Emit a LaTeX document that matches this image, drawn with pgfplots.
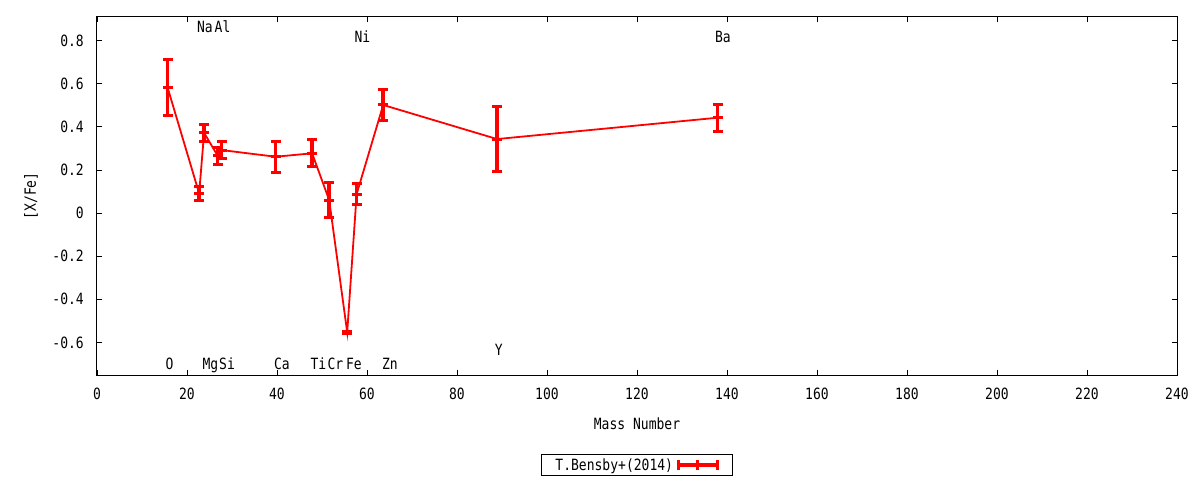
\documentclass[border=0pt]{standalone}
\usepackage{pgfplots}
\pgfplotsset{compat=1.18}
\usepackage{fontspec}
\setmainfont[FakeStretch=0.84]{DejaVu Sans Mono}
\begin{document}
\begin{tikzpicture}[font=\fontsize{15.5}{18}\selectfont]
\path[use as bounding box] (-97pt,-105pt) rectangle (1103pt,375pt);
\begin{axis}[
  at={(0pt,0pt)}, anchor=south west,
  scale only axis, width=1080pt, height=358pt,
  xmin=0, xmax=240, ymin=-0.751, ymax=0.909,
  xtick={0,20,40,60,80,100,120,140,160,180,200,220,240},
  xticklabels={0,20,40,60,80,100,120,140,160,180,200,220,240},
  ytick={-0.6,-0.4,-0.2,0,0.2,0.4,0.6,0.8},
  yticklabels={-0.6,-0.4,-0.2,0,0.2,0.4,0.6,0.8},
  tick align=inside, major tick length=5pt,
  tick style={black, line width=0.8pt},
  axis line style={black, line width=1pt},
  xticklabel style={anchor=center, yshift=-19pt},
  yticklabel style={anchor=east, inner sep=0pt, xshift=-13pt},
  every axis x label/.style={at={(axis description cs:0.5,0)}, yshift=-49pt, anchor=center},
  every axis y label/.style={at={(axis description cs:0,0.5)}, xshift=-66pt, rotate=90, anchor=center},
  xlabel={Mass Number},
  ylabel={[X/Fe]},
  legend style={at={(axis description cs:0.5,-0.2514)}, anchor=center, draw=black, line width=1pt,
    inner xsep=12pt, inner ysep=1.5pt, legend plot pos=right, legend cell align=left},
  legend image code/.code={
    \draw[red, line width=3.5pt] (0pt,0pt) -- (42pt,0pt);
    \draw[red, line width=3pt] (1.5pt,-5pt) -- (1.5pt,5pt);
    \draw[red, line width=3pt] (21pt,-5pt) -- (21pt,5pt);
    \draw[red, line width=3pt] (40.5pt,-5pt) -- (40.5pt,5pt);
  },
  clip=false,
]
\addplot[red, line width=1.8pt, mark=-, mark size=5pt, mark options={line width=3pt},
  error bars/.cd, y dir=both, y explicit,
  error bar style={red, line width=3.5pt},
  error mark options={red, rotate=90, mark size=5pt, line width=3pt}]
coordinates {
  (15.7,0.581) +- (0,0.13)
  (22.7,0.091) +- (0,0.032)
  (23.8,0.372) +- (0,0.038)
  (26.8,0.266) +- (0,0.04)
  (27.7,0.292) +- (0,0.039)
  (39.7,0.261) +- (0,0.071)
  (47.8,0.277) +- (0,0.062)
  (51.6,0.060) +- (0,0.083)
  (55.6,-0.553) +- (0,0.005)
  (57.7,0.088) +- (0,0.05)
  (63.6,0.501) +- (0,0.071)
  (88.9,0.343) +- (0,0.149)
  (137.9,0.442) +- (0,0.063)
};
\addlegendentry{T.Bensby+(2014)}
\node[anchor=base] at (axis cs:16.1,-0.724) {O};
\node[anchor=base] at (axis cs:25.2,-0.724) {Mg};
\node[anchor=base] at (axis cs:28.9,-0.724) {Si};
\node[anchor=base] at (axis cs:41.1,-0.724) {Ca};
\node[anchor=base] at (axis cs:49.2,-0.724) {Ti};
\node[anchor=base] at (axis cs:53.0,-0.724) {Cr};
\node[anchor=base] at (axis cs:57.1,-0.724) {Fe};
\node[anchor=base] at (axis cs:65.1,-0.724) {Zn};
\node[anchor=base] at (axis cs:89.3,-0.659) {Y};
\node[anchor=base] at (axis cs:24.0,0.836) {Na};
\node[anchor=base] at (axis cs:27.9,0.836) {Al};
\node[anchor=base] at (axis cs:59.0,0.790) {Ni};
\node[anchor=base] at (axis cs:139.1,0.790) {Ba};
\end{axis}
\end{tikzpicture}
\end{document}
